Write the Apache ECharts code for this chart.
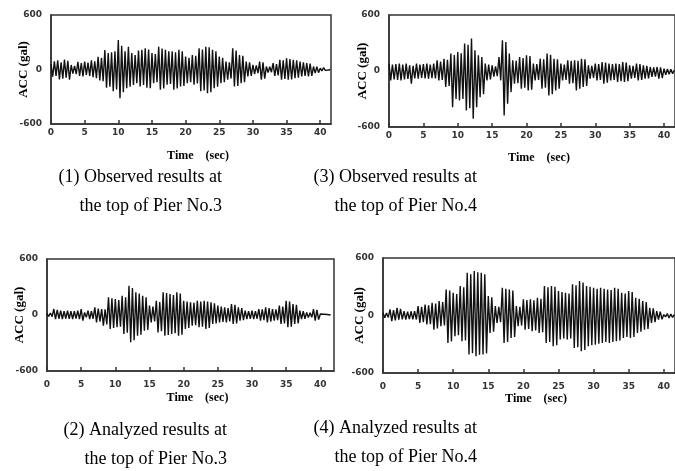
<!DOCTYPE html>
<html>
<head>
<meta charset="utf-8">
<title>Pier acceleration records</title>
<script src="https://cdn.jsdelivr.net/npm/echarts@6/dist/echarts.min.js"></script>
<style>
    html, body { margin: 0; padding: 0; background: #fff; }
    #chart { width: 675px; height: 471px; }
</style>
</head>
<body>
<div id="chart"></div>
<script>
// sampling step of the records (sec)
const DT = 0.25;

// (1) observed, top of Pier No.3  (gal, one line = one second)
const pier3Observed = [
    60, -80, 90, -70,
    100, -110, 80, -100,
    110, -90, 95, -113,
    50, -45, 40, -50,
    85, -70, 70, -77,
    88, -60, 75, -70,
    100, -85, 90, -95,
    140, -120, 130, -130,
    215, -200, 180, -190,
    190, -240, 200, -220,
    325, -315, 260, -250,
    200, -205, 250, -190,
    180, -170, 160, -150,
    210, -187, 216, -170,
    234, -200, 220, -205,
    180, -150, 170, -140,
    250, -223, 230, -210,
    216, -168, 200, -160,
    200, -223, 190, -210,
    216, -187, 200, -180,
    143, -150, 130, -140,
    160, -168, 150, -155,
    234, -240, 220, -230,
    250, -260, 245, -250,
    216, -205, 200, -190,
    143, -150, 130, -140,
    88, -113, 80, -100,
    234, -187, 210, -180,
    160, -150, 150, -140,
    88, -77, 80, -70,
    50, -50, 45, -40,
    88, -113, 80, -100,
    33, -33, 30, -30,
    70, -70, 60, -65,
    106, -113, 100, -105,
    124, -113, 115, -110,
    106, -95, 100, -90,
    88, -77, 80, -70,
    70, -77, 65, -70,
    33, -40, 30, -35,
    15, -15, 20, -10,
    5, -5, 0
];

// (3) observed, top of Pier No.4
const pier4Observed = [
    79, -100, 70, -90,
    75, -95, 79, -100,
    70, -90, 79, -85,
    60, -136, 55, -80,
    79, -82, 70, -75,
    75, -80, 79, -82,
    70, -78, 79, -80,
    115, -100, 100, -95,
    130, -172, 120, -160,
    186, -387, 170, -300,
    204, -315, 190, -300,
    294, -422, 280, -400,
    347, -512, 222, -387,
    168, -280, 150, -250,
    79, -100, 70, -90,
    60, -60, 50, -55,
    150, -100, 330, -476,
    311, -351, 186, -226,
    115, -136, 110, -130,
    150, -190, 140, -180,
    168, -208, 160, -200,
    79, -100, 75, -95,
    132, -190, 125, -180,
    186, -261, 175, -250,
    132, -208, 125, -190,
    79, -100, 70, -95,
    115, -136, 110, -130,
    115, -208, 110, -190,
    132, -172, 125, -160,
    60, -82, 55, -75,
    79, -100, 75, -95,
    97, -136, 90, -125,
    79, -100, 75, -95,
    79, -118, 75, -110,
    97, -118, 90, -110,
    60, -82, 55, -75,
    79, -100, 75, -95,
    60, -82, 55, -78,
    43, -64, 40, -60,
    43, -82, 40, -75,
    25, -40, 22, -35,
    20, -30, 10
];

// (2) analyzed, top of Pier No.3
const pier3Analyzed = [
    15, -15, 21, -18,
    64, -43, 55, -40,
    46, -43, 40, -38,
    46, -40, 42, -43,
    40, -38, 46, -43,
    64, -60, 28, -25,
    46, -43, 40, -40,
    82, -79, 70, -70,
    64, -114, 60, -100,
    189, -150, 180, -140,
    171, -132, 160, -125,
    207, -203, 190, -190,
    314, -293, 290, -270,
    243, -221, 230, -210,
    207, -168, 190, -160,
    100, -79, 90, -70,
    153, -186, 140, -175,
    243, -221, 235, -215,
    225, -203, 215, -195,
    243, -221, 230, -210,
    153, -150, 145, -140,
    136, -114, 130, -110,
    153, -132, 145, -125,
    153, -150, 145, -140,
    136, -96, 125, -90,
    100, -79, 90, -75,
    82, -79, 75, -70,
    118, -96, 110, -90,
    82, -60, 75, -55,
    46, -43, 40, -40,
    46, -43, 42, -40,
    64, -60, 60, -55,
    82, -79, 75, -70,
    64, -60, 60, -55,
    100, -96, 90, -90,
    153, -132, 145, -125,
    118, -96, 110, -90,
    46, -43, 40, -40,
    28, -28, 25, -25,
    64, -60, 55, -50,
    10, -10, 8, -5,
    5, -5, 0
];

// (4) analyzed, top of Pier No.4
const pier4Analyzed = [
    28, -24, 25, -20,
    63, -59, 55, -50,
    80, -42, 70, -40,
    45, -42, 40, -38,
    42, -40, 45, -42,
    98, -77, 90, -70,
    115, -94, 105, -90,
    133, -147, 125, -135,
    150, -112, 140, -105,
    272, -286, 260, -270,
    237, -216, 225, -205,
    307, -269, 295, -260,
    447, -408, 430, -395,
    464, -426, 450, -410,
    447, -408, 430, -395,
    202, -181, 190, -170,
    98, -77, 90, -70,
    290, -286, 280, -275,
    272, -234, 260, -225,
    98, -112, 90, -105,
    168, -147, 160, -140,
    168, -164, 160, -155,
    185, -181, 175, -175,
    307, -286, 295, -275,
    307, -321, 300, -310,
    255, -251, 245, -240,
    237, -251, 230, -240,
    325, -339, 315, -330,
    360, -373, 345, -360,
    307, -321, 300, -310,
    290, -304, 280, -295,
    290, -286, 280, -275,
    272, -286, 265, -275,
    290, -269, 280, -260,
    237, -234, 230, -225,
    255, -234, 245, -225,
    185, -181, 175, -170,
    150, -147, 140, -140,
    80, -77, 75, -70,
    45, -42, 40, -40,
    10, -15, 20, -25,
    15, -20, 10
];

const yTicks = [-600, 0, 600];
const xTickStep = 5;
const xName = 'Time    (sec)';
const yName = 'ACC (gal)';

const captions = [
    ['(1) Observed results at', 'the top of Pier No.3'],
    ['(3) Observed results at', 'the top of Pier No.4'],
    ['(2) Analyzed results at', 'the top of Pier No.3'],
    ['(4) Analyzed results at', 'the top of Pier No.4']
];

// panel layout: grid box, axis extent and label placement
const panels = [
    { data: pier3Observed, grid: { left: 51, top: 15, width: 280, height: 109 }, xMax: 41.6,
      labelMargin: 4, nameGap: 26, yNameGap: 21, cap: { x: 222, y: [177, 206] } },
    { data: pier4Observed, grid: { left: 389, top: 15, width: 290, height: 112 }, xMax: 41.6,
      labelMargin: 4, nameGap: 25, yNameGap: 20, cap: { x: 477, y: [177, 206] } },
    { data: pier3Analyzed, grid: { left: 47, top: 259, width: 287, height: 112 }, xMax: 42,
      labelMargin: 9, nameGap: 21, yNameGap: 21, cap: { x: 227, y: [430, 459] } },
    { data: pier4Analyzed, grid: { left: 383, top: 258, width: 296, height: 115 }, xMax: 41.6,
      labelMargin: 9, nameGap: 20, yNameGap: 17, cap: { x: 477, y: [428, 457] } }
];

const tickFont = { fontFamily: 'DejaVu Sans', fontWeight: 'bold', fontSize: 9, color: '#333' };
const nameFont = { fontFamily: 'Liberation Serif', fontWeight: 'bold', fontSize: 12, color: '#000' };

const chart = echarts.init(document.getElementById('chart'), null, { renderer: 'canvas' });

const option = {
    animation: false,
    backgroundColor: '#fff',
    grid: panels.map(p => Object.assign({ show: true, borderColor: '#333', borderWidth: 1.5, containLabel: false }, p.grid)),
    xAxis: panels.map((p, i) => ({
        type: 'value',
        gridIndex: i,
        min: 0,
        max: p.xMax,
        interval: xTickStep,
        name: xName,
        nameLocation: 'middle',
        nameGap: p.nameGap,
        nameTextStyle: Object.assign({ padding: [0, 0, 0, 14] }, nameFont),
        axisLine: { show: true, onZero: false, lineStyle: { color: '#333', width: 1.5 } },
        axisTick: { show: true, inside: true, length: 4, lineStyle: { color: '#333', width: 1.5 } },
        axisLabel: Object.assign({
            margin: p.labelMargin,
            showMaxLabel: false,
            formatter: v => (v % xTickStep === 0 ? String(v) : '')
        }, tickFont),
        splitLine: { show: false }
    })),
    yAxis: panels.map((p, i) => ({
        type: 'value',
        gridIndex: i,
        min: yTicks[0],
        max: yTicks[yTicks.length - 1],
        interval: yTicks[1] - yTicks[0],
        name: yName,
        nameLocation: 'middle',
        nameRotate: 90,
        nameGap: p.yNameGap,
        nameMoveOverlap: false,
        nameTextStyle: Object.assign({}, nameFont, { fontSize: 13 }),
        axisLine: { show: true, lineStyle: { color: '#333', width: 1.5 } },
        axisTick: { show: false },
        axisLabel: Object.assign({ margin: 9 }, tickFont),
        splitLine: { show: false }
    })),
    series: panels.map((p, i) => ({
        type: 'line',
        xAxisIndex: i,
        yAxisIndex: i,
        showSymbol: false,
        smooth: false,
        clip: true,
        lineStyle: { color: '#111', width: 1.4 },
        data: p.data.map((v, k) => [k * DT, v])
    })),
    graphic: panels.flatMap((p, i) => captions[i].map((line, j) => ({
        type: 'text',
        x: p.cap.x,
        y: p.cap.y[j],
        style: {
            text: line,
            fontFamily: 'Liberation Serif',
            fontSize: 18,
            fill: '#000',
            textAlign: 'right',
            textVerticalAlign: 'middle'
        }
    })))
};

chart.setOption(option);
</script>
</body>
</html>
